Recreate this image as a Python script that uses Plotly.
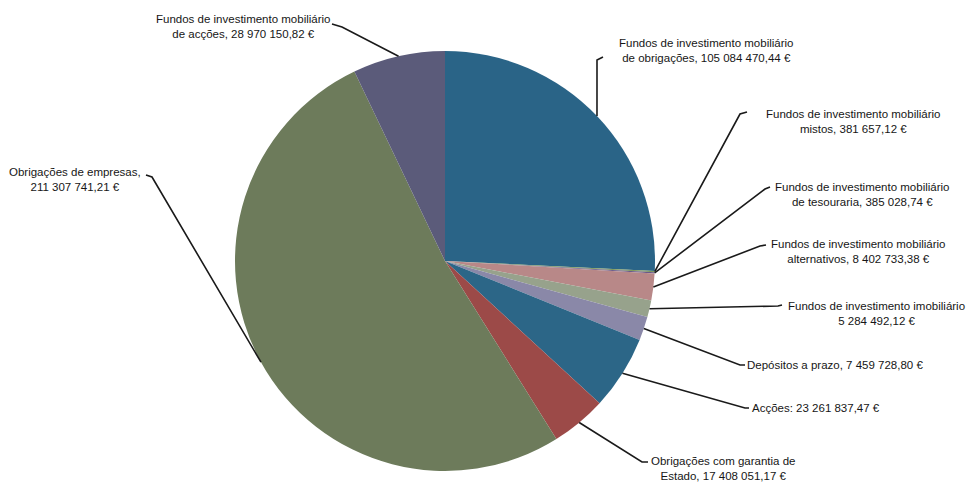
import math
import plotly.graph_objects as go

# ---- data ----
categories = [
    "Fundos de investimento mobiliário de obrigações",
    "Fundos de investimento mobiliário mistos",
    "Fundos de investimento mobiliário de tesouraria",
    "Fundos de investimento mobiliário alternativos",
    "Fundos de investimento imobiliário",
    "Depósitos a prazo",
    "Acções",
    "Obrigações com garantia de Estado",
    "Obrigações de empresas",
    "Fundos de investimento mobiliário de acções",
]
values = [
    105084470.44,
    381657.12,
    385028.74,
    8402733.38,
    5284492.12,
    7459728.80,
    23261837.47,
    17408051.17,
    211307741.21,
    28970150.82,
]
# label text lines (value appended from data)
label_line1 = [
    "Fundos de investimento mobiliário",
    "Fundos de investimento mobiliário",
    "Fundos de investimento mobiliário",
    "Fundos de investimento mobiliário",
    "Fundos de investimento imobiliário",
    "",
    "",
    "Obrigações com garantia de",
    "Obrigações de empresas,",
    "Fundos de investimento mobiliário",
]
label_line2_prefix = [
    "de obrigações, ",
    "mistos, ",
    "de tesouraria, ",
    "alternativos, ",
    "",
    "Depósitos a prazo, ",
    "Acções: ",
    "Estado, ",
    "",
    "de acções, ",
]
colors = [
    "#2a6487", "#7f9a5e", "#6a5a8a", "#b88888", "#97a28c",
    "#8a88a8", "#2c6687", "#9c4a48", "#6d7b5b", "#5b5b7a",
]

# ---- layout constants (pixels, page coordinates) ----
W, H = 979, 493
OFF = 8  # page body margin
CX, CY, R = 445, 261, 210
# text centre, elbow point, end point of leader
text_pos = [(706, 51), (853, 121), (862, 194), (858, 251), (876, 313),
            (835, 365), (816, 408), (723, 468), (75, 180), (243, 26)]
elbow = [(597, 60), (740, 114), (765, 189), (760, 246), (778, 306),
         (740, 365), (745, 408), (642, 462), (152, 177), (342, 27)]
end_pt = [(603, 57), (747, 112), (770, 187), (766, 245), (782, 305),
          (745, 365), (749, 408), (648, 462), (146, 175), (332, 24)]


def fmt_eur(v):
    whole = int(v)
    cents = int(round((v - whole) * 100))
    s = f"{whole:,}".replace(",", " ")
    return f"{s},{cents:02d} €"


def px(x):
    return (x - OFF) / W


def py(y):
    return 1 - (y - OFF) / H


fig = go.Figure(go.Pie(
    labels=categories,
    values=values,
    sort=False,
    direction="clockwise",
    rotation=0,
    marker=dict(colors=colors, line=dict(width=0)),
    textinfo="none",
    hoverinfo="label+value+percent",
    showlegend=False,
    domain=dict(x=[px(CX - R), px(CX + R)], y=[py(CY + R), py(CY - R)]),
))

total = sum(values)
cum = 0.0
shapes = []
annotations = []
for i, v in enumerate(values):
    mid = (cum + v / 2) / total * 2 * math.pi
    cum += v
    ex = CX + R * math.sin(mid)
    ey = CY - R * math.cos(mid)
    (bx, by), (tx, ty) = elbow[i], end_pt[i]
    shapes.append(dict(
        type="path", xref="paper", yref="paper",
        path=f"M {px(ex)},{py(ey)} L {px(bx)},{py(by)} L {px(tx)},{py(ty)}",
        line=dict(color="#1a1a1a", width=1.6),
    ))
    line2 = label_line2_prefix[i] + fmt_eur(v)
    txt = line2 if not label_line1[i] else label_line1[i] + "<br>" + line2
    cx_, cy_ = text_pos[i]
    annotations.append(dict(
        x=px(cx_), y=py(cy_), xref="paper", yref="paper",
        text=txt, showarrow=False, xanchor="center", yanchor="middle",
        align="center",
        font=dict(family="Liberation Sans, Arial", size=11.5, color="#161616"),
    ))

fig.update_layout(
    width=W, height=H,
    margin=dict(l=0, r=0, t=0, b=0),
    paper_bgcolor="white",
    plot_bgcolor="white",
    shapes=shapes,
    annotations=annotations,
)

fig.write_html("out.html")
